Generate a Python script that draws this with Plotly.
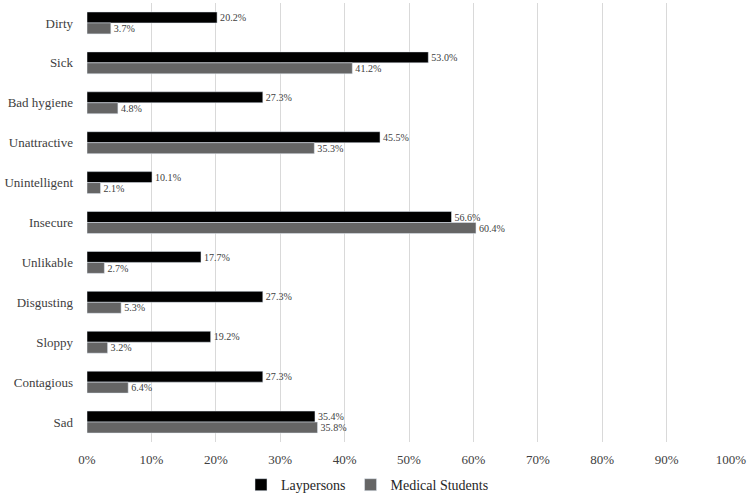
import plotly.graph_objects as go

categories = ["Dirty", "Sick", "Bad hygiene", "Unattractive", "Unintelligent", "Insecure",
              "Unlikable", "Disgusting", "Sloppy", "Contagious", "Sad"]
laypersons = [20.2, 53.0, 27.3, 45.5, 10.1, 56.6, 17.7, 27.3, 19.2, 27.3, 35.4]
medical_students = [3.7, 41.2, 4.8, 35.3, 2.1, 60.4, 2.7, 5.3, 3.2, 6.4, 35.8]
x_ticks = [0, 10, 20, 30, 40, 50, 60, 70, 80, 90, 100]
x_tick_labels = [f"{v}%" for v in x_ticks]

font_family = "Liberation Serif"

fig = go.Figure()
fig.add_trace(go.Bar(
    y=categories, x=laypersons, orientation="h", name="Laypersons",
    marker=dict(color="#000000"),
    text=[f"{v:.1f}%" for v in laypersons], textposition="outside",
    textfont=dict(size=11, color="#404040", family=font_family), cliponaxis=False,
))
fig.add_trace(go.Bar(
    y=categories, x=medical_students, orientation="h", name="Medical Students",
    marker=dict(color="#656565"),
    text=[f"{v:.1f}%" for v in medical_students], textposition="outside",
    textfont=dict(size=11, color="#404040", family=font_family), cliponaxis=False,
))

fig.update_layout(
    width=750, height=493,
    margin=dict(l=87, r=19, t=3, b=51),
    barmode="group", bargap=0.45, bargroupgap=0,
    plot_bgcolor="white", paper_bgcolor="white",
    font=dict(family=font_family, color="#404040", size=13),
    showlegend=True,
    legend=dict(orientation="h", x=0.49, xref="container", xanchor="center",
                y=0.016, yref="container", yanchor="middle",
                font=dict(size=14, color="#262626", family=font_family),
                traceorder="normal", itemwidth=30),
    xaxis=dict(range=[0, 100], tickvals=x_ticks, ticktext=x_tick_labels,
               showgrid=True, gridcolor="#d9d9d9", gridwidth=1, zeroline=False,
               showline=False, ticks="", automargin=False, ticklabelstandoff=8,
               tickfont=dict(size=13, color="#404040", family=font_family)),
    yaxis=dict(autorange="reversed", showgrid=False, showline=False, ticks="",
               automargin=False, ticklabelstandoff=13,
               tickfont=dict(size=13, color="#404040", family=font_family)),
)

fig.write_html("out.html", config={"displayModeBar": False},
               post_script="document.body.style.margin='0px';")
